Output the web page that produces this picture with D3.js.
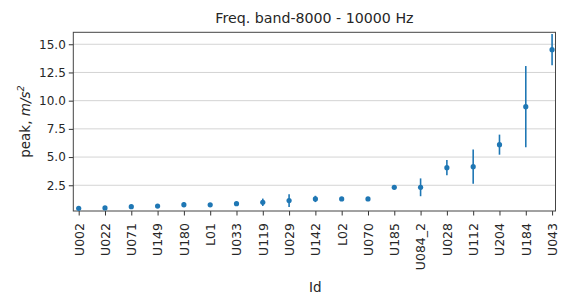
<!DOCTYPE html>
<html><head><meta charset="utf-8">
<script src="https://cdn.jsdelivr.net/npm/d3@7"></script>
<style>body{margin:0;background:#fff}svg{display:block}text{font-family:"DejaVu Sans",sans-serif;fill:#262626}</style>
</head><body>
<script>
const ids = ["U002","U022","U071","U149","U180","L01","U033","U119","U029","U142","L02","U070","U185","U084_2","U028","U112","U204","U184","U043"];
const peaks = [0.46,0.49,0.60,0.66,0.78,0.77,0.87,0.99,1.14,1.29,1.29,1.29,2.32,2.32,4.06,4.15,6.10,9.47,14.52];
const errs = [0.06,0.08,0.10,0.17,0.22,0.08,0.08,0.33,0.57,0.28,0.10,0.08,0.10,0.79,0.68,1.52,0.89,3.60,1.39];
const yTicks = [2.5,5.0,7.5,10.0,12.5,15.0];
const title = "Freq. band-8000 - 10000 Hz";

const W=562,H=294;
const m={l:73.3,r:555.5,t:32.3,b:211};
const svg=d3.select("body").append("svg").attr("width",W).attr("height",H);
const x=d3.scaleLinear().domain([-0.205,18.13]).range([m.l,m.r]);
const y=d3.scaleLinear().domain([0.22,16.06]).range([m.b,m.t]);

// grid
svg.append("g").selectAll("line").data(yTicks).join("line")
  .attr("x1",m.l).attr("x2",m.r).attr("y1",d=>y(d)).attr("y2",d=>y(d))
  .attr("stroke","#d4d4d4").attr("stroke-width",1);

// y axis
const ya=svg.append("g").attr("transform",`translate(${m.l},0)`)
  .call(d3.axisLeft(y).tickValues(yTicks).tickFormat(d3.format(".1f")).tickSize(4.5).tickPadding(3));
ya.select(".domain").remove();
ya.selectAll("line").attr("stroke","#333");
ya.selectAll("text").attr("font-size","12px").style("font-family","DejaVu Sans").attr("fill","#262626");

// x axis
const xa=svg.append("g").attr("transform",`translate(0,${m.b})`)
  .call(d3.axisBottom(x).tickValues(d3.range(ids.length)).tickFormat(i=>ids[i]).tickSize(4.5).tickPadding(3));
xa.select(".domain").remove();
xa.selectAll("line").attr("stroke","#333");
xa.selectAll("text").attr("font-size","12.5px").style("font-family","DejaVu Sans").attr("fill","#262626")
  .attr("transform","rotate(-90)").attr("text-anchor","end").attr("dy","0.35em").attr("y",0).attr("x",-12);

// frame
svg.append("rect").attr("x",m.l).attr("y",m.t).attr("width",m.r-m.l).attr("height",m.b-m.t)
  .attr("fill","none").attr("stroke","#444").attr("stroke-width",1);

// error bars
const g=svg.append("g");
g.selectAll("line.err").data(ids).join("line").attr("class","err")
  .attr("x1",(d,i)=>x(i)).attr("x2",(d,i)=>x(i))
  .attr("y1",(d,i)=>y(peaks[i]-errs[i])).attr("y2",(d,i)=>y(peaks[i]+errs[i]))
  .attr("stroke","#1f77b4").attr("stroke-width",1.6);
g.selectAll("circle").data(ids).join("circle")
  .attr("cx",(d,i)=>x(i)).attr("cy",(d,i)=>y(peaks[i])).attr("r",2.6).attr("fill","#1f77b4");

// labels
svg.append("text").attr("x",(m.l+m.r)/2).attr("y",23).attr("text-anchor","middle").attr("font-size","14.2px").text(title);
svg.append("text").attr("x",(m.l+m.r)/2+1).attr("y",292).attr("text-anchor","middle").attr("font-size","13.5px").text("Id");
const yl=svg.append("text").attr("transform",`translate(30,${(m.t+m.b)/2}) rotate(-90)`).attr("text-anchor","middle").attr("font-size","13.5px");
yl.append("tspan").text("peak, ");
yl.append("tspan").attr("font-style","italic").text("m/s");
yl.append("tspan").attr("font-style","italic").attr("font-size","9.5px").attr("dy","-0.6em").text("2");
</script>
</body></html>
